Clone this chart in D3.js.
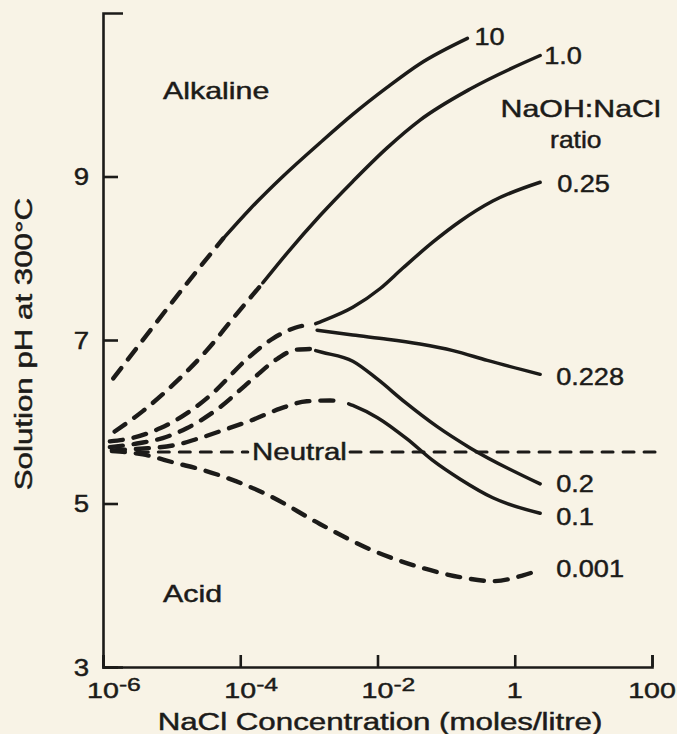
<!DOCTYPE html>
<html><head><meta charset="utf-8">
<script src="https://cdn.jsdelivr.net/npm/d3@7"></script>
<style>
html,body{margin:0;padding:0;background:#f8f3e6;}
svg{display:block;}
</style></head><body>
<svg id="chart" width="677" height="734"></svg>
<script>
// ---------------- data ----------------
// x: log10 of NaCl concentration (moles/litre); y: solution pH at 300 °C
const xTickExponents = [-6, -4, -2, 0, 2];
const xTickLabels = [["10", "-6"], ["10", "-4"], ["10", "-2"], ["1", ""], ["100", ""]];
const yTickValues = [3, 5, 7, 9];
const yTickLabels = ["3", "5", "7", "9"];
const ratioLabels = ["10", "1.0", "0.25", "0.228", "0.2", "0.1", "0.001"];

const ratio10Dashed = [[-5.85, 6.53], [-5.3, 7.13], [-4.78, 7.69], [-4.25, 8.24]];
const ratio10Solid = [[-4.25, 8.24], [-3.86, 8.60], [-3.38, 9.00], [-2.84, 9.41], [-2.36, 9.76], [-1.86, 10.09], [-1.38, 10.38], [-0.69, 10.69]];

const ratio1Dashed = [[-5.83, 5.88], [-5.42, 6.13], [-4.92, 6.50], [-4.48, 6.88], [-4.1, 7.27], [-3.67, 7.70]];
const ratio1Solid = [[-3.67, 7.70], [-3.32, 8.06], [-2.84, 8.52], [-2.36, 8.94], [-1.86, 9.35], [-1.38, 9.69], [-0.65, 10.07], [0.37, 10.48]];

// shared dashed branch of the 0.25 and 0.228 curves
const ratio025Dashed = [[-5.9, 5.76], [-5.58, 5.80], [-5.17, 5.92], [-4.73, 6.13], [-4.4, 6.35], [-3.9, 6.77], [-3.52, 7.02], [-3.2, 7.15], [-2.98, 7.19]];
const ratio025Solid = [[-2.9, 7.20], [-2.84, 7.22], [-2.36, 7.40], [-1.96, 7.63], [-1.63, 7.88], [-1.19, 8.20], [-0.8, 8.45], [-0.32, 8.70], [0.37, 8.93]];
const ratio0228Solid = [[-2.88, 7.12], [-2.36, 7.06], [-1.86, 7.01], [-1.38, 6.95], [-0.9, 6.87], [-0.4, 6.75], [0.37, 6.58]];

const ratio02Dashed = [[-5.9, 5.69], [-5.46, 5.74], [-5.13, 5.80], [-4.78, 5.92], [-4.34, 6.15], [-3.81, 6.53], [-3.46, 6.77], [-3.2, 6.88], [-2.98, 6.89]];
const ratio02Solid = [[-2.9, 6.87], [-2.81, 6.85], [-2.36, 6.74], [-2.0, 6.52], [-1.6, 6.24], [-1.13, 5.94], [-0.65, 5.68], [0.37, 5.24]];

const ratio01Dashed = [[-5.87, 5.65], [-5.46, 5.67], [-4.92, 5.72], [-4.63, 5.79], [-4.1, 5.94], [-3.86, 6.01], [-3.42, 6.16], [-3.03, 6.25], [-2.69, 6.26], [-2.5, 6.24]];
const ratio01Solid = [[-2.42, 6.22], [-2.36, 6.20], [-2.0, 6.05], [-1.57, 5.79], [-1.2, 5.53], [-0.8, 5.30], [-0.32, 5.07], [0.37, 4.88]];

const ratio0001Dashed = [[-5.87, 5.64], [-5.42, 5.60], [-4.92, 5.49], [-4.59, 5.42], [-4.25, 5.33], [-3.61, 5.11], [-2.84, 4.75], [-2.11, 4.44], [-1.34, 4.21], [-0.8, 4.10], [-0.32, 4.05], [0.12, 4.12], [0.37, 4.19]];

const neutralPH = 5.63;
const neutralSpans = [[-5.5, -3.89], [-2.4, 2.12]];

const series = [
  { label: ratioLabels[0], dashed: ratio10Dashed, solid: ratio10Solid },
  { label: ratioLabels[1], dashed: ratio1Dashed, solid: ratio1Solid },
  { label: ratioLabels[2], dashed: ratio025Dashed, solid: ratio025Solid },
  { label: ratioLabels[3], dashed: null, solid: ratio0228Solid },
  { label: ratioLabels[4], dashed: ratio02Dashed, solid: ratio02Solid },
  { label: ratioLabels[5], dashed: ratio01Dashed, solid: ratio01Solid },
  { label: ratioLabels[6], dashed: ratio0001Dashed, solid: null }
];

// ---------------- layout / style ----------------
const ink = "#1c1b19";
const FONT = '"Liberation Sans", Arial, Helvetica, sans-serif';
const wordStretch = 1.32, digitStretch = 1.18;
const textStroke = 0.45;
const labelOffsets = {
  "10": [7, 7], "1.0": [4, 8], "0.25": [17, 10], "0.228": [16, 11],
  "0.2": [16, 8], "0.1": [16, 12], "0.001": [16, 7]
};

const svg = d3.select("#chart");
svg.append("rect").attr("width", 677).attr("height", 734).attr("fill", "#f8f3e6");

const x = d3.scaleLog().domain([1e-6, 100]).range([103, 652]);
const y = d3.scaleLinear().domain([3, 11]).range([667, 13]);
const px = e => x(Math.pow(10, e));

function sText(parent, tx, ty, str, size, sx, anchor) {
  return parent.append("text")
    .attr("transform", `translate(${tx},${ty}) scale(${sx},1)`)
    .attr("text-anchor", anchor || "start")
    .attr("font-family", FONT)
    .attr("font-size", size)
    .attr("fill", ink).attr("stroke", ink).attr("stroke-width", textStroke)
    .text(str);
}

// ---------------- axes ----------------
const gy = svg.append("g").attr("transform", `translate(${x(1e-6)},0)`)
  .attr("color", ink)
  .call(d3.axisLeft(y).tickValues(yTickValues).tickSizeInner(-15).tickSizeOuter(-20)
    .tickFormat((d, i) => yTickLabels[i]));
gy.selectAll(".domain, .tick line").attr("stroke", ink).attr("stroke-width", 2.6);
gy.selectAll(".tick text")
  .attr("x", 0).attr("dy", "0.36em")
  .attr("font-family", FONT).attr("font-size", 23)
  .attr("stroke", ink).attr("stroke-width", textStroke)
  .attr("text-anchor", "end")
  .attr("transform", `translate(-14,0) scale(1.2,1)`);

const gx = svg.append("g").attr("transform", `translate(0,${y(3)})`)
  .attr("color", ink)
  .call(d3.axisBottom(x).tickValues(xTickExponents.map(e => Math.pow(10, e)))
    .tickSizeInner(-12).tickSizeOuter(-12).tickFormat(() => ""));
gx.selectAll(".domain, .tick line").attr("stroke", ink).attr("stroke-width", 2.6);
gx.selectAll(".tick text").remove();

xTickExponents.forEach((e, i) => {
  const [base, sup] = xTickLabels[i];
  const t = svg.append("text")
    .attr("transform", `translate(${px(e)},${y(3) + 31}) scale(1.3,1)`)
    .attr("font-family", FONT).attr("font-size", 22).attr("fill", ink)
    .attr("stroke", ink).attr("stroke-width", textStroke);
  t.append("tspan").text(base);
  if (sup) t.append("tspan").attr("font-size", 19).attr("dy", -7).text(sup);
  const w = t.node().getSubStringLength(0, base.length);
  t.attr("x", -w / 2);
});

// axis titles
svg.append("text")
  .attr("transform", `translate(32,${y(6.95)}) rotate(-90) scale(1.36,1)`)
  .attr("text-anchor", "middle")
  .attr("font-family", FONT).attr("font-size", 23).attr("fill", ink)
  .attr("stroke", ink).attr("stroke-width", textStroke)
  .text("Solution pH at 300°C");
sText(svg, 380, 730, "NaCl Concentration (moles/litre)", 23, 1.36, "middle");

// ---------------- curves ----------------
const line = d3.line()
  .x(d => px(d[0])).y(d => y(d[1]))
  .curve(d3.curveMonotoneX);

const gc = svg.append("g").attr("fill", "none").attr("stroke", ink).attr("stroke-linecap", "round");

series.forEach(s => {
  if (s.dashed) gc.append("path").attr("d", line(s.dashed))
    .attr("stroke-width", 4.4).attr("stroke-dasharray", "13,11");
  if (s.solid) gc.append("path").attr("d", line(s.solid))
    .attr("stroke-width", 3.5);
});

neutralSpans.forEach(sp => {
  gc.append("path").attr("d", line(sp.map(e => [e, neutralPH])))
    .attr("stroke-width", 3).attr("stroke-dasharray", "11,10");
});

// ---------------- labels ----------------
series.forEach(s => {
  const pts = s.solid || s.dashed;
  const end = pts[pts.length - 1];
  const off = labelOffsets[s.label];
  sText(svg, px(end[0]) + off[0], y(end[1]) + off[1], s.label, 23, digitStretch, "start");
});

sText(svg, px(0.96), y(9.73), "NaOH:NaCl", 23, wordStretch, "middle");
sText(svg, px(0.89), y(9.35), "ratio", 23, 1.15, "middle");
sText(svg, px(-5.126), y(9.95), "Alkaline", 23, wordStretch, "start");
sText(svg, px(-5.126), y(3.80), "Acid", 23, wordStretch, "start");
sText(svg, px(-3.137), y(neutralPH) + 8, "Neutral", 23, 1.28, "middle");
</script>
</body></html>
